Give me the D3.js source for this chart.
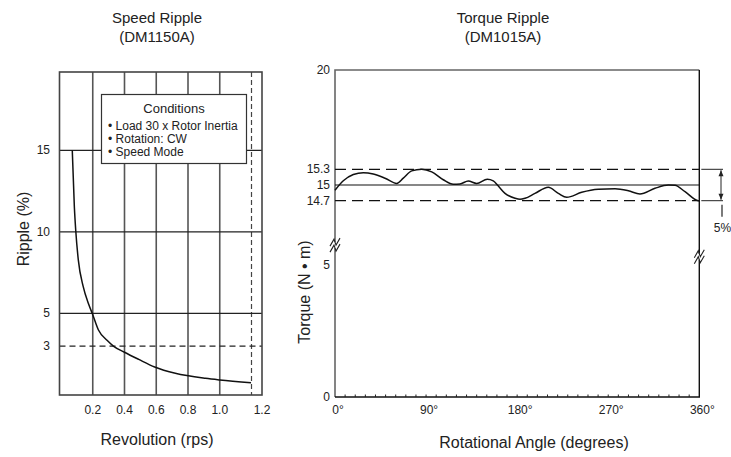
<!DOCTYPE html>
<html>
<head>
<meta charset="utf-8">
<script src="https://cdn.jsdelivr.net/npm/d3@7"></script>
<style>
  body { margin: 0; background: #fff; }
  svg { display: block; }
  text { font-family: "Liberation Sans Narrow", "Arial Narrow", "Liberation Sans", Arial, sans-serif; fill: #222; }
</style>
</head>
<body>
<svg id="chart" width="731" height="457"></svg>
<script>
// ---- speed ripple (left) ----
const speedRps    = [0.071, 0.084, 0.093, 0.109, 0.140, 0.172, 0.197, 0.235, 0.29, 0.33, 0.40, 0.49, 0.59, 0.72, 0.91, 1.0, 1.197];
const speedRipple = [15.0, 11.55, 10.07, 8.28, 6.64, 5.62, 5.0, 4.0, 3.35, 3.0, 2.62, 2.18, 1.72, 1.33, 1.02, 0.92, 0.75];
const speedGridX  = [0.2, 0.4, 0.6, 0.8, 1.0];
const speedXLabels = ["0.2", "0.4", "0.6", "0.8", "1.0", "1.2"];
const speedGridY  = [15, 10, 5];
const speedDashY  = 3;
const speedDashX  = 1.2;
const conditions  = ["• Load 30 x Rotor Inertia", "• Rotation: CW", "• Speed Mode"];

// ---- torque ripple (right) ----
const torqueAngle = [0, 8.2, 18.1, 28.0, 37.8, 49.4, 61.0, 67.5, 75.8, 85.7, 95.6, 107.0, 116.9, 123.5, 131.7, 140.0, 150.5, 156.4, 161.4, 168.0, 177.9, 182.8, 187.8, 197.6, 210.8, 220.7, 229.0, 243.8, 260.2, 276.7, 289.9, 301.4, 316.2, 329.4, 336.0, 345.9, 359.0, 360];
const torqueValue = [14.90, 15.08, 15.20, 15.235, 15.21, 15.13, 15.03, 15.13, 15.27, 15.30, 15.25, 15.10, 15.013, 15.02, 15.076, 15.03, 15.11, 15.08, 14.98, 14.84, 14.746, 14.727, 14.746, 14.84, 14.956, 14.84, 14.765, 14.86, 14.918, 14.929, 14.89, 14.828, 14.937, 15.0, 14.994, 14.872, 14.70, 14.69];
const torqueYTicks = [0, 5, 14.7, 15, 15.3, 20];
const torqueYLabels = ["0", "5", "14.7", "15", "15.3", "20"];
const torqueXTicks = [0, 90, 180, 270, 360];
const torqueLimits = [15.3, 14.7];
const torqueBreaks = [8.0, 6.25]; // left axis, right axis

const svg = d3.select("#chart");

// ================= LEFT PANEL =================
const L = { x0: 59.5, x1: 262, y0: 72, y1: 395 };
const sx = d3.scaleLinear().domain([0, 1.2]).range([61, 251.5]);
const sy = d3.scaleLinear().domain([0, 19.8]).range([L.y1, L.y0]);
const gl = svg.append("g");

gl.append("text").attr("x", 157).attr("y", 23).attr("text-anchor", "middle").style("font-size", "15px").text("Speed Ripple");
gl.append("text").attr("x", 157).attr("y", 42).attr("text-anchor", "middle").style("font-size", "15px").text("(DM1150A)");

// vertical grid
gl.selectAll("line.vg").data(speedGridX).join("line")
  .attr("x1", d => sx(d)).attr("x2", d => sx(d))
  .attr("y1", L.y0).attr("y2", L.y1)
  .attr("stroke", "#555").attr("stroke-width", 1.6);
gl.append("line")
  .attr("x1", sx(speedDashX)).attr("x2", sx(speedDashX))
  .attr("y1", L.y0).attr("y2", L.y1)
  .attr("stroke", "#444").attr("stroke-width", 1.2).attr("stroke-dasharray", "5,3");

// horizontal grid
gl.selectAll("line.hg").data(speedGridY).join("line")
  .attr("x1", L.x0).attr("x2", L.x1)
  .attr("y1", d => sy(d)).attr("y2", d => sy(d))
  .attr("stroke", "#222").attr("stroke-width", 1.2);
gl.append("line")
  .attr("x1", L.x0).attr("x2", L.x1)
  .attr("y1", sy(speedDashY)).attr("y2", sy(speedDashY))
  .attr("stroke", "#222").attr("stroke-width", 1.2).attr("stroke-dasharray", "6,4");

// frame
gl.append("rect").attr("x", L.x0).attr("y", L.y0)
  .attr("width", L.x1 - L.x0).attr("height", L.y1 - L.y0)
  .attr("fill", "none").attr("stroke", "#444").attr("stroke-width", 1.6);

// curve
const speedPts = speedRps.map((d, i) => [d, speedRipple[i]]);
gl.append("path").datum(speedPts)
  .attr("d", d3.line().x(d => sx(d[0])).y(d => sy(d[1])).curve(d3.curveMonotoneX))
  .attr("fill", "none").attr("stroke", "#111").attr("stroke-width", 1.5);

// conditions box
const box = gl.append("g");
box.append("rect").attr("x", 101.5).attr("y", 94.5).attr("width", 145).attr("height", 69)
  .attr("fill", "#fff").attr("stroke", "#333").attr("stroke-width", 1.2);
box.append("text").attr("x", 174).attr("y", 113).attr("text-anchor", "middle").style("font-size", "13px").text("Conditions");
box.selectAll("text.c").data(conditions).join("text")
  .attr("x", 108).attr("y", (d, i) => 130 + i * 13)
  .style("font-size", "12px").text(d => d);

// tick labels
const yTickL = speedGridY.concat([speedDashY]);
gl.selectAll("text.yt").data(yTickL).join("text")
  .attr("x", 50).attr("y", d => sy(d) + 4)
  .attr("text-anchor", "end").style("font-size", "12px").text(d => d);
const xTickPos = speedGridX.map(d => sx(d)).concat([L.x1]);
gl.selectAll("text.xt").data(speedXLabels).join("text")
  .attr("x", (d, i) => xTickPos[i]).attr("y", 414)
  .attr("text-anchor", "middle").style("font-size", "12px").text(d => d);

gl.append("text").attr("x", 157).attr("y", 445).attr("text-anchor", "middle").style("font-size", "16px").text("Revolution (rps)");
gl.append("text").attr("transform", "translate(29,229) rotate(-90)").attr("text-anchor", "middle").style("font-size", "16px").text("Ripple (%)");

// ================= RIGHT PANEL =================
const R = { x0: 335, x1: 699.3, y0: 70, y1: 397 };
const tx = d3.scaleLinear().domain([0, 360]).range([R.x0, R.x1]);
const ty = d3.scaleLinear().domain(torqueYTicks).range([397, 265, 200.7, 185, 169.3, 70]);
const gr = svg.append("g");

gr.append("text").attr("x", 503).attr("y", 23).attr("text-anchor", "middle").style("font-size", "15px").text("Torque Ripple");
gr.append("text").attr("x", 503).attr("y", 42).attr("text-anchor", "middle").style("font-size", "15px").text("(DM1015A)");

// frame: left/top grey, right/bottom black
gr.append("path").attr("d", `M${R.x0},${R.y1}V${R.y0}H${R.x1}`)
  .attr("fill", "none").attr("stroke", "#666").attr("stroke-width", 1.6);
gr.append("path").attr("d", `M${R.x1},${R.y0}V${R.y1}H${R.x0}`)
  .attr("fill", "none").attr("stroke", "#111").attr("stroke-width", 1.4);

// minor ticks every 10 degrees
gr.selectAll("line.mt").data(d3.range(10, 360, 10)).join("line")
  .attr("x1", d => tx(d)).attr("x2", d => tx(d))
  .attr("y1", R.y1).attr("y2", R.y1 - 2.5)
  .attr("stroke", "#222").attr("stroke-width", 1);

// reference lines
gr.append("line").attr("x1", R.x0).attr("x2", R.x1).attr("y1", ty(15)).attr("y2", ty(15))
  .attr("stroke", "#111").attr("stroke-width", 1.2);
gr.selectAll("line.lim").data(torqueLimits).join("line")
  .attr("x1", R.x0).attr("x2", R.x1).attr("y1", d => ty(d)).attr("y2", d => ty(d))
  .attr("stroke", "#111").attr("stroke-width", 1.2).attr("stroke-dasharray", "11,6");

// torque curve
const torquePts = torqueAngle.map((d, i) => [d, torqueValue[i]]);
gr.append("path").datum(torquePts)
  .attr("d", d3.line().x(d => tx(d[0])).y(d => ty(d[1])).curve(d3.curveMonotoneX))
  .attr("fill", "none").attr("stroke", "#111").attr("stroke-width", 1.5);

// axis breaks
function drawBreak(x, y) {
  const b = gr.append("g");
  b.append("rect").attr("x", x - 2).attr("y", y - 3).attr("width", 4).attr("height", 6).attr("fill", "#fff");
  [-3, 3].forEach(o => {
    b.append("path")
      .attr("d", `M${x - 5},${y + o + 4}L${x - 1},${y + o - 3}L${x + 1},${y + o + 3}L${x + 5},${y + o - 4}`)
      .attr("fill", "none").attr("stroke", "#222").attr("stroke-width", 1.1);
  });
}
drawBreak(R.x0, ty(torqueBreaks[0]));
drawBreak(R.x1, ty(torqueBreaks[1]));

// y tick labels
gr.selectAll("text.yt").data(torqueYTicks).join("text")
  .attr("x", 330).attr("y", d => ty(d) + 4)
  .attr("text-anchor", "end").style("font-size", "12px")
  .text((d, i) => torqueYLabels[i]);
// x tick labels
gr.selectAll("text.xt").data(torqueXTicks).join("text")
  .attr("x", d => tx(d) + 3).attr("y", 414)
  .attr("text-anchor", "middle").style("font-size", "12px").text(d => d + "°");

// 5% bracket
const bx = 721;
gr.selectAll("line.ext").data(torqueLimits).join("line")
  .attr("x1", R.x1 + 2).attr("x2", bx + 2).attr("y1", d => ty(d)).attr("y2", d => ty(d))
  .attr("stroke", "#222").attr("stroke-width", 1);
gr.append("line").attr("x1", bx).attr("x2", bx).attr("y1", ty(15.3) + 1).attr("y2", ty(14.7) - 1)
  .attr("stroke", "#222").attr("stroke-width", 1);
gr.append("path").attr("d", `M${bx},${ty(15.3) + 1}l-2.5,6h5z`).attr("fill", "#222");
gr.append("path").attr("d", `M${bx},${ty(14.7) - 1}l-2.5,-6h5z`).attr("fill", "#222");
gr.append("line").attr("x1", bx + 1).attr("x2", bx + 1).attr("y1", ty(14.7) + 4).attr("y2", ty(14.7) + 16)
  .attr("stroke", "#222").attr("stroke-width", 1.2);
gr.append("text").attr("x", 722.5).attr("y", 232).attr("text-anchor", "middle").style("font-size", "12px").text("5%");

gr.append("text").attr("x", 534).attr("y", 448).attr("text-anchor", "middle").style("font-size", "16px").text("Rotational Angle (degrees)");
gr.append("text").attr("transform", "translate(310,292) rotate(-90)").attr("text-anchor", "middle").style("font-size", "16px").text("Torque (N • m)");
</script>
</body>
</html>
